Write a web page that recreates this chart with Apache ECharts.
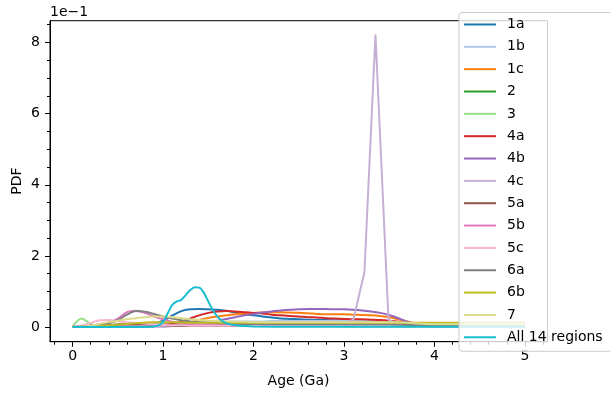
<!DOCTYPE html>
<html>
<head>
<meta charset="utf-8">
<script src="https://cdn.jsdelivr.net/npm/echarts@6/dist/echarts.min.js"></script>
<style>
  html, body { margin: 0; padding: 0; background: #fff; }
  #chart { width: 610px; height: 395px; }
</style>
</head>
<body>
<div id="chart"></div>
<script>
// sampling grid shared by most regions (Ga)
const ages = [0, 0.1, 0.2, 0.3, 0.4, 0.5, 0.6, 0.7, 0.8, 0.9,
  1.0, 1.1, 1.2, 1.3, 1.4, 1.5, 1.6, 1.7, 1.8, 1.9,
  2.0, 2.1, 2.2, 2.3, 2.4, 2.5, 2.6, 2.7, 2.8, 2.9,
  3.0, 3.1, 3.2, 3.3, 3.4, 3.5, 3.6, 3.7, 3.8, 3.9,
  4.0, 4.1, 4.2, 4.3, 4.4, 4.5, 4.6, 4.7, 4.8, 4.9, 5.0];

// PDF values in units of 1e-1 (as read on the axis)
const pdf1a = [0, .01, .02, .02, .03, .03, .04, .05, .06, .10,
  .18, .32, .45, .50, .51, .50, .49, .46, .41, .37,
  .33, .30, .27, .24, .23, .22, .21, .20, .20, .19,
  .19, .19, .18, .18, .17, .16, .14, .11, .08, .06,
  .05, .05, .05, .05, .05, .05, .05, .05, .05, .05, .05];
const pdf1b = [0, .02, .03, .04, .05, .05, .06, .06, .07, .08,
  .09, .10, .11, .12, .13, .14, .15, .15, .16, .16,
  .16, .16, .17, .17, .17, .17, .17, .17, .17, .17,
  .17, .17, .17, .17, .17, .16, .14, .11, .08, .06,
  .05, .05, .05, .05, .05, .05, .05, .05, .05, .05, .05];
const pdf1c = [0, .02, .03, .03, .03, .03, .03, .03, .03, .03,
  .04, .05, .07, .12, .20, .26, .30, .33, .36, .38,
  .40, .41, .42, .42, .41, .40, .39, .37, .36, .36,
  .36, .35, .34, .33, .31, .28, .22, .16, .10, .07,
  .05, .04, .04, .04, .04, .04, .04, .04, .04, .04, .04];
const pdf2 = [0, .01, .02, .03, .04, .05, .05, .06, .06, .06,
  .06, .06, .06, .06, .06, .06, .06, .06, .06, .06,
  .06, .06, .06, .06, .06, .06, .06, .06, .06, .06,
  .06, .06, .06, .06, .06, .06, .06, .06, .05, .05,
  .05, .05, .05, .05, .05, .05, .05, .05, .05, .05, .05];
const pdf3 = [.02, .24, .09, .04, .03, .03, .03, .03, .03, .03,
  .03, .03, .03, .03, .03, .03, .03, .03, .03, .03,
  .03, .03, .03, .03, .03, .03, .03, .03, .03, .03,
  .02, .02, .02, .02, .02, .02, .02, .02, .02, .02,
  .02, .02, .02, .02, .02, .02, .02, .02, .02, .02, .02];
const pdf4a = [0, .02, .04, .05, .05, .05, .05, .05, .05, .05,
  .06, .09, .15, .24, .33, .40, .44, .45, .44, .42,
  .40, .38, .35, .33, .31, .30, .28, .27, .25, .24,
  .23, .22, .22, .21, .20, .18, .15, .11, .08, .05,
  .04, .04, .04, .04, .04, .04, .04, .04, .04, .04, .04];
const pdf4b = [0, .01, .02, .02, .02, .02, .02, .02, .02, .02,
  .02, .03, .04, .06, .09, .13, .18, .23, .28, .33,
  .37, .41, .44, .47, .49, .50, .51, .51, .51, .50,
  .50, .49, .47, .44, .40, .34, .25, .15, .08, .04,
  .02, .02, .02, .02, .02, .02, .02, .02, .02, .02, .02];
const pdf5a = [0, .01, .02, .03, .05, .08, .10, .10, .09, .07,
  .05, .04, .03, .03, .03, .03, .03, .03, .03, .03,
  .03, .03, .03, .03, .03, .03, .03, .03, .03, .03,
  .03, .03, .03, .03, .03, .03, .03, .03, .03, .03,
  .03, .03, .03, .03, .03, .03, .03, .03, .03, .03, .03];
const pdf5b = [.01, .02, .04, .08, .13, .24, .42, .46, .40, .30,
  .22, .15, .11, .09, .08, .07, .07, .06, .06, .06,
  .06, .06, .06, .06, .06, .06, .06, .06, .06, .06,
  .06, .06, .06, .06, .06, .06, .05, .05, .05, .05,
  .05, .05, .05, .05, .05, .05, .05, .05, .05, .05, .05];
const pdf5c = [.01, .04, .12, .19, .20, .17, .14, .12, .10, .08,
  .06, .05, .05, .04, .04, .04, .04, .04, .04, .04,
  .04, .04, .04, .04, .04, .04, .04, .04, .04, .04,
  .03, .03, .03, .03, .03, .03, .03, .03, .03, .03,
  .03, .03, .03, .03, .03, .03, .03, .03, .03, .03, .03];
const pdf6a = [0, .02, .04, .07, .11, .20, .35, .45, .43, .37,
  .30, .24, .19, .16, .14, .12, .11, .10, .10, .09,
  .09, .08, .08, .08, .08, .08, .08, .08, .08, .08,
  .08, .08, .08, .08, .08, .08, .07, .06, .05, .05,
  .05, .05, .05, .05, .05, .05, .05, .05, .05, .05, .05];
const pdf6b = [0, .01, .02, .03, .05, .07, .09, .11, .13, .14,
  .14, .14, .13, .12, .12, .12, .12, .12, .12, .12,
  .12, .12, .12, .12, .12, .12, .12, .12, .12, .12,
  .12, .12, .12, .12, .12, .12, .12, .12, .12, .12,
  .12, .12, .12, .12, .12, .12, .12, .12, .12, .12, .12];
const pdf7 = [0, .01, .04, .09, .14, .18, .22, .25, .28, .30,
  .30, .28, .25, .22, .20, .18, .17, .16, .15, .15,
  .14, .14, .14, .14, .14, .14, .14, .14, .14, .14,
  .14, .14, .14, .14, .14, .14, .14, .12, .10, .09,
  .08, .08, .08, .08, .08, .08, .08, .08, .08, .08, .08];

// 4c is sampled coarsely around its spike
const ages4c = [0, 0.5, 1.0, 1.5, 2.0, 2.5, 2.95, 3.104, 3.226, 3.348, 3.492, 3.62, 4.0, 4.5, 5.0];
const pdf4c = [0, .02, .03, .03, .03, .03, .04, .21, 1.54, 8.22, .21, .04, .02, .02, .02];

// all regions combined
const agesAll = [0, 0.5, 0.8, 0.85, 0.9, 0.95, 1.0, 1.05, 1.1, 1.15, 1.2, 1.25, 1.3, 1.35, 1.4,
  1.45, 1.5, 1.55, 1.6, 1.65, 1.7, 1.75, 1.8, 1.9, 2.0, 2.5, 3.0, 3.5, 4.0, 4.5, 5.0];
const pdfAll = [0, 0, 0, .01, .02, .05, .14, .38, .62, .72, .76, .90, 1.04, 1.12, 1.11,
  .97, .72, .48, .30, .18, .11, .07, .05, .03, .02, .01, .01, .01, .01, .01, .01];

const xTicks = [0, 1, 2, 3, 4, 5];
const xMinorTicks = [-0.2, 0.2, 0.4, 0.6, 0.8, 1.2, 1.4, 1.6, 1.8, 2.2, 2.4, 2.6, 2.8,
  3.2, 3.4, 3.6, 3.8, 4.2, 4.4, 4.6, 4.8, 5.2];
const yTicks = [0, 2, 4, 6, 8];
const yMinorTicks = [0.5, 1, 1.5, 2.5, 3, 3.5, 4.5, 5, 5.5, 6.5, 7, 7.5, 8.5];

const regions = [
  ['1a', '#1f77b4', ages, pdf1a],
  ['1b', '#aec7e8', ages, pdf1b],
  ['1c', '#ff7f0e', ages, pdf1c],
  ['2', '#2ca02c', ages, pdf2],
  ['3', '#98df8a', ages, pdf3],
  ['4a', '#d62728', ages, pdf4a],
  ['4b', '#9467bd', ages, pdf4b],
  ['4c', '#c5b0d5', ages4c, pdf4c],
  ['5a', '#8c564b', ages, pdf5a],
  ['5b', '#e377c2', ages, pdf5b],
  ['5c', '#f7b6d2', ages, pdf5c],
  ['6a', '#7f7f7f', ages, pdf6a],
  ['6b', '#bcbd22', ages, pdf6b],
  ['7', '#dbdb8d', ages, pdf7],
  ['All 14 regions', '#17becf', agesAll, pdfAll],
];

const font = 'DejaVu Sans';
const chart = echarts.init(document.getElementById('chart'));

const axisBase = (min, max) => ({
  type: 'value', min: min, max: max,
  splitLine: { show: false },
  axisLine: { show: false, onZero: false },
});

chart.setOption({
  animation: false,
  textStyle: { fontFamily: font },
  grid: {
    left: 50, top: 20.7, right: 62.5, bottom: 53.3,
    show: true, borderColor: '#000', borderWidth: 1,
  },
  xAxis: [
    {
      ...axisBase(-0.25, 5.25),
      position: 'bottom',
      axisLine: { show: true, onZero: false, lineStyle: { color: '#000', width: 1 } },
      axisTick: { show: true, customValues: xTicks, length: 5, lineStyle: { color: '#000' } },
      axisLabel: { customValues: xTicks, margin: 8, color: '#000', fontSize: 14, fontFamily: font },
    },
    {
      ...axisBase(-0.25, 5.25),
      position: 'bottom',
      axisTick: { show: true, customValues: xMinorTicks, length: 3, lineStyle: { color: '#000' } },
      axisLabel: { show: false },
    },
  ],
  yAxis: [
    {
      ...axisBase(-0.41, 8.61),
      position: 'left',
      axisLine: { show: true, onZero: false, lineStyle: { color: '#000', width: 1 } },
      axisTick: { show: true, customValues: yTicks, length: 5, lineStyle: { color: '#000' } },
      axisLabel: { customValues: yTicks, margin: 10, color: '#000', fontSize: 14, fontFamily: font },
    },
    {
      ...axisBase(-0.41, 8.61),
      position: 'left',
      axisTick: { show: true, customValues: yMinorTicks, length: 3, lineStyle: { color: '#000' } },
      axisLabel: { show: false },
    },
  ],
  legend: {
    orient: 'vertical',
    left: 459, top: 12.5,
    icon: 'rect',
    itemWidth: 32, itemHeight: 2, itemGap: 8.34,
    padding: [5, 30, 7, 5],
    backgroundColor: 'rgba(255,255,255,0.8)',
    borderColor: '#cccccc', borderWidth: 1, borderRadius: 3,
    textStyle: { fontFamily: font, fontSize: 14, lineHeight: 14, color: '#000', padding: [0, 0, 0, 6] },
    data: regions.map(r => r[0]),
  },
  graphic: [
    { type: 'text', x: 50, y: 12, style: { text: '1e\u22121', fontFamily: font, fontSize: 14, fill: '#000', verticalAlign: 'middle' } },
    { type: 'text', x: 298.5, y: 381, style: { text: 'Age (Ga)', fontFamily: font, fontSize: 14, fill: '#000', align: 'center', verticalAlign: 'middle' } },
    { type: 'text', x: 17, y: 181, rotation: Math.PI / 2, style: { text: 'PDF', fontFamily: font, fontSize: 14, fill: '#000', align: 'center', verticalAlign: 'middle' } },
  ],
  series: regions.map(([name, color, xs, ys]) => ({
    name: name,
    type: 'line',
    xAxisIndex: 0,
    yAxisIndex: 0,
    symbol: 'none',
    smooth: name === '4c' ? false : 0.3,
    color: color,
    lineStyle: { color: color, width: 2 },
    emphasis: { disabled: true },
    data: xs.map((x, i) => [x, ys[i]]),
  })),
});
</script>
</body>
</html>
